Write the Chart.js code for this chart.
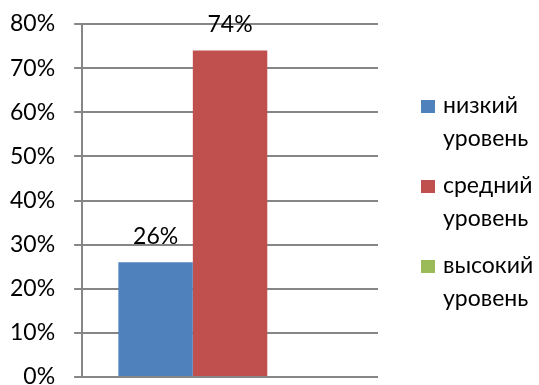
<!DOCTYPE html>
<html><head><meta charset="utf-8">
<script src="https://cdn.jsdelivr.net/npm/chart.js@4/dist/chart.umd.min.js"></script>
<style>html,body{margin:0;padding:0;background:#fff}#wrap{width:539px;height:385px}</style>
</head><body><div id="wrap"><canvas id="c" width="539" height="385"></canvas></div>
<script>
const categories = [""];
const seriesNames = [["низкий","уровень"],["средний","уровень"],["высокий","уровень"]];
const seriesValues = [[0.26],[0.74],[0.00]];
const seriesColors = ["#4F81BD","#C0504D","#9BBB59"];
const yTicks = [0,0.1,0.2,0.3,0.4,0.5,0.6,0.7,0.8];
const FONT = "Lato";

const labelPlugin = {
  id:'labels',
  afterDatasetsDraw(chart){
    const ctx = chart.ctx;
    ctx.save();
    ctx.font = "23px " + FONT;
    ctx.fillStyle = "#000";
    ctx.textAlign = "center";
    ctx.textBaseline = "middle";
    chart.data.datasets.forEach((ds,i)=>{
      const meta = chart.getDatasetMeta(i);
      meta.data.forEach((bar,j)=>{
        const v = ds.data[j];
        if (!v) return;
        ctx.fillText(Math.round(v*100)+"%", bar.x, bar.y - 26);
      });
    });
    ctx.restore();
  }
};
const legendPlugin = {
  id:'sideLegend',
  afterDraw(chart){
    const ctx = chart.ctx;
    ctx.save();
    ctx.font = "23px " + FONT;
    ctx.fillStyle = "#000";
    ctx.textBaseline = "middle";
    ctx.textAlign = "left";
    chart.data.datasets.forEach((ds,i)=>{
      const y0 = 106 + i*80;
      ctx.fillStyle = ds.backgroundColor;
      ctx.fillRect(421, y0-6, 14, 13);
      ctx.fillStyle = "#000";
      ds.lines.forEach((t,k)=> ctx.fillText(t, 443, y0 + k*33));
    });
    ctx.restore();
  }
};

new Chart(document.getElementById('c'), {
  type:'bar',
  data:{
    labels: categories,
    datasets: seriesNames.map((n,i)=>({
      label: n.join(" "), lines: n, data: seriesValues[i],
      backgroundColor: seriesColors[i], borderWidth:0,
      barPercentage:1, categoryPercentage:0.755
    }))
  },
  options:{
    responsive:false, animation:false,
    layout:{padding:{left:-9,right:161,top:24,bottom:8}},
    plugins:{legend:{display:false},tooltip:{enabled:false}},
    scales:{
      x:{display:false},
      y:{min:0,max:0.8,
        afterBuildTicks(axis){axis.ticks = yTicks.map(v=>({value:v}));},
        afterFit(axis){axis.paddingTop = 0; axis.paddingBottom = 0;},
        ticks:{padding:19,color:"#000",font:{family:FONT,size:23},
          callback:v=>Math.round(v*100)+"%"},
        grid:{color:"#868686",lineWidth:2,tickLength:8},
        border:{color:"#868686",width:2}
      }
    }
  },
  plugins:[labelPlugin,legendPlugin]
});
</script></body></html>
